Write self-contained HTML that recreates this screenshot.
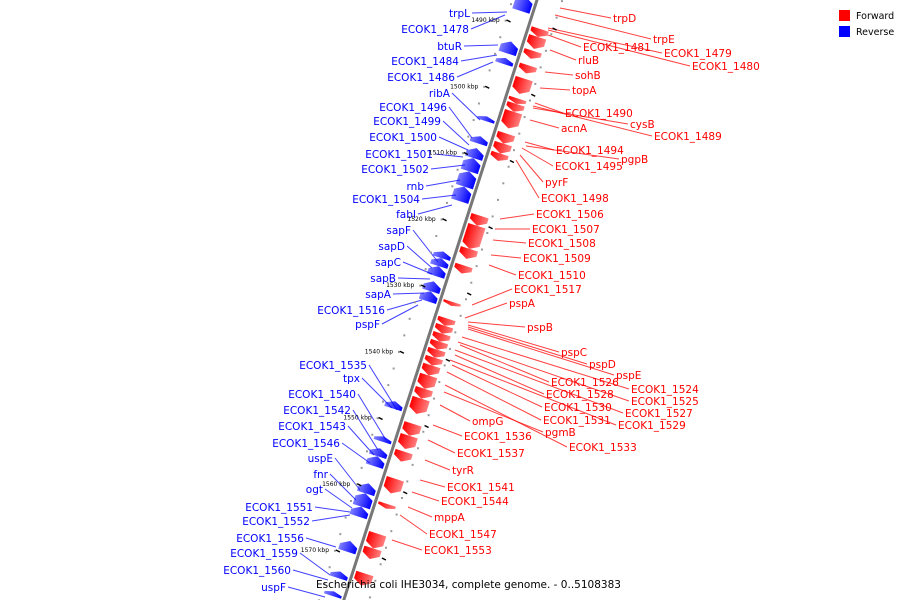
<!DOCTYPE html>
<html><head><meta charset="utf-8"><style>
html,body{margin:0;padding:0;background:#fff}
svg{display:block;font-family:"DejaVu Sans","Liberation Sans",sans-serif}
</style></head><body>
<svg id="map" width="900" height="600" viewBox="0 0 900 600">
<g id="genes"></g>
<g id="leaders"></g>
<g id="labels"></g>
<g id="ticks"></g>
<text x="316" y="588" font-size="10.5" fill="#000">Escherichia coli IHE3034, complete genome. - 0..5108383</text>
<g>
<rect x="839" y="10" width="11" height="11" fill="#f00"/>
<text x="856" y="19" font-size="9.5">Forward</text>
<rect x="839" y="26" width="11" height="11" fill="#00f"/>
<text x="856" y="35" font-size="9.5">Reverse</text>
</g>
</svg>
<script>
// forward (red) genes: start/end in kbp
const fwdStart=[1490.8,1492.0,1494.1,1496.3,1498.3,1501.3,1502.1,1503.3,1506.6,1508.1,1509.6,1519.0,1520.5,1524.0,1526.5,1532.0,1534.5,1535.6,1536.8,1538.0,1539.2,1540.4,1541.6,1543.1,1545.1,1546.6,1550.4,1552.2,1554.6,1558.7,1562.5,1567.0,1569.2,1573.0];
const fwdEnd=[1492.0,1493.8,1495.3,1497.5,1500.6,1502.1,1503.3,1505.8,1508.1,1509.6,1510.7,1520.5,1524.0,1525.5,1527.7,1532.6,1535.6,1536.8,1538.0,1539.2,1540.4,1541.6,1543.1,1545.1,1546.6,1548.9,1552.2,1554.2,1556.1,1560.9,1563.2,1569.2,1570.8,1574.8];
// reverse (blue) genes
const revStart=[1487.0,1493.8,1496.3,1505.1,1508.1,1509.9,1511.4,1513.4,1515.7,1525.5,1526.5,1527.7,1530.0,1531.5,1548.1,1553.4,1555.2,1556.4,1560.5,1562.0,1564.0,1569.2,1573.8,1576.8];
const revEnd=[1489.2,1495.6,1497.2,1505.8,1509.2,1511.4,1513.4,1515.7,1517.9,1526.5,1527.7,1529.2,1531.5,1533.0,1549.2,1554.2,1556.4,1557.9,1562.0,1564.0,1565.5,1570.8,1574.8,1577.5];
const tickKbp=[1490,1500,1510,1520,1530,1540,1550,1560,1570];
// labels: name, text x, text y, leader target x, target y
const fwdNames=["trpD","trpE","ECOK1_1481","ECOK1_1479","ECOK1_1480","rluB","sohB","topA","ECOK1_1490","cysB","ECOK1_1489","acnA","ECOK1_1494","pgpB","ECOK1_1495","pyrF","ECOK1_1498","ECOK1_1506","ECOK1_1507","ECOK1_1508","ECOK1_1509","ECOK1_1510","ECOK1_1517","pspA","pspB","pspC","pspD","pspE","ECOK1_1524","ECOK1_1526","ECOK1_1525","ECOK1_1528","ECOK1_1527","ECOK1_1530","ECOK1_1529","ECOK1_1531","ECOK1_1533","pgmB","ompG","ECOK1_1536","ECOK1_1537","tyrR","ECOK1_1541","ECOK1_1544","mppA","ECOK1_1547","ECOK1_1553"];
const fwdLX=[613,653,583,664,692,578,575,572,565,630,654,561,556,621,555,545,541,536,532,528,523,518,514,509,527,561,589,616,631,551,631,546,625,544,618,543,569,545,472,464,457,452,447,441,434,429,424];
const fwdLY=[21,42,50,56,69,63,78,93,116,127,139,131,153,162,169,185,201,217,232,246,261,278,292,306,330,355,367,378,392,385,404,397,416,410,428,423,450,435,424,439,456,473,490,504,520,537,553];
const fwdTX=[560,555,548,548,548,550,545,540,535,533,533,530,525,526,522,520,516,500,495,493,491,489,472,465,468,468,468,468,462,460,458,455,455,452,450,447,445,444,440,433,428,425,420,412,408,400,392];
const fwdTY=[8,15,35,28,30,50,72,88,103,108,106,120,142,146,148,155,160,219,229,240,255,265,305,318,322,325,327,329,337,345,342,355,350,365,360,372,385,392,405,425,440,460,480,492,507,515,540];
const revNames=["trpL","ECOK1_1478","btuR","ECOK1_1484","ECOK1_1486","ribA","ECOK1_1496","ECOK1_1499","ECOK1_1500","ECOK1_1501","ECOK1_1502","rnb","ECOK1_1504","fabI","sapF","sapD","sapC","sapB","sapA","ECOK1_1516","pspF","ECOK1_1535","tpx","ECOK1_1540","ECOK1_1542","ECOK1_1543","ECOK1_1546","uspE","fnr","ogt","ECOK1_1551","ECOK1_1552","ECOK1_1556","ECOK1_1559","ECOK1_1560","uspF"];
const revLX=[470,469,462,459,455,450,447,441,437,433,429,424,420,416,411,405,401,396,391,385,380,367,360,356,351,346,340,333,328,323,313,310,304,298,291,286];
const revLY=[16,32,49,64,80,96,110,124,140,157,172,189,202,217,233,249,265,281,297,313,327,368,381,397,413,429,446,461,477,492,510,524,541,556,573,590];
const revTX=[507,505,498,497,493,480,472,469,468,463,465,460,456,452,438,432,432,430,424,422,418,397,392,386,378,374,370,360,356,352,350,350,336,330,328,325];
const revTY=[12,15,45,55,62,120,138,145,150,157,165,180,195,205,262,268,274,279,293,300,305,410,408,440,450,455,463,490,500,508,512,515,547,575,580,597];

const NS='http://www.w3.org/2000/svg';
const X0=537, SL=0.322;
function yOf(k){return 20+(k-1490)*6.625;}
function bx(y){return X0-SL*y;}
const svg=document.getElementById('map');
const gG=document.getElementById('genes'),gL=document.getElementById('leaders'),gT=document.getElementById('labels'),gK=document.getElementById('ticks');
function mk(tag,attrs,parent){const e=document.createElementNS(NS,tag);for(const k in attrs)e.setAttribute(k,attrs[k]);parent.appendChild(e);return e;}

const defs=mk('defs',{},svg);
const gr=mk('linearGradient',{id:'gr',x1:0,x2:1,y1:0,y2:0},defs);
mk('stop',{offset:'0','stop-color':'#ff0000'},gr);mk('stop',{offset:'1','stop-color':'#ff8080'},gr);
const gb=mk('linearGradient',{id:'gb',x1:0,x2:1,y1:0,y2:0},defs);
mk('stop',{offset:'0','stop-color':'#8080ff'},gb);mk('stop',{offset:'1','stop-color':'#0000ff'},gb);

const bb=mk('line',{x1:bx(-5),y1:-5,x2:bx(605),y2:605,stroke:'#777','stroke-width':3},gG);



const ang=Math.atan(SL)*180/Math.PI;
const rot=mk('g',{transform:`translate(${X0},0) rotate(${ang})`},gG);
const sc=1/Math.cos(Math.atan(SL));
function gene(s,e,fwd,i){
  const a=yOf(s)*sc,b=yOf(e)*sc, h=Math.min(5,(b-a)*0.5);
  let pts;
  if(fwd){pts=`3,${a} 21,${a} 21,${b-h} 12,${b} 3,${b-h}`;}
  else{pts=`-3,${b} -21,${b} -21,${a+h} -12,${a} -3,${a+h}`;}
  const p=mk('polygon',{points:pts,fill:fwd?'url(#gr)':'url(#gb)'},rot);
  
  
}
fwdStart.forEach((s,i)=>gene(s,fwdEnd[i],true,i));
revStart.forEach((s,i)=>gene(s,revEnd[i],false,i));

for(let k=1487;k<=1578;k+=2.5){
  const y=yOf(k);
  mk('rect',{x:bx(y)+24,y:y,width:2,height:2,fill:'#999'},gK);
  mk('rect',{x:bx(y)-27,y:y+3,width:2,height:2,fill:'#999'},gK);
}
tickKbp.forEach((k,i)=>{
  const y=yOf(k);
  const t=mk('line',{x1:bx(y)-24,y1:y,x2:bx(y)-20,y2:y+2,stroke:'#000','stroke-width':1.5},gK);
  
  
  const tx=mk('text',{x:bx(y)-45,y:y+2,'font-size':6,'text-anchor':'middle',fill:'#000'},gK);
  tx.textContent=k+' kbp';
  
  
  mk('line',{x1:bx(y)+22,y1:y+8,x2:bx(y)+26,y2:y+10,stroke:'#000','stroke-width':1.5},gK);
});

fwdNames.forEach((n,i)=>{
  const l=mk('line',{x1:fwdLX[i]-2,y1:fwdLY[i]-3,x2:fwdTX[i],y2:fwdTY[i],stroke:'#f00','stroke-width':1,'stroke-opacity':0.75},gL);
  
  
  const t=mk('text',{x:fwdLX[i],y:fwdLY[i]+1,'font-size':10.5,fill:'#f00'},gT);
  t.textContent=n;
  
  
});
revNames.forEach((n,i)=>{
  const l=mk('line',{x1:revLX[i]+2,y1:revLY[i]-3,x2:revTX[i],y2:revTY[i],stroke:'#00f','stroke-width':1,'stroke-opacity':0.75},gL);
  
  
  const t=mk('text',{x:revLX[i],y:revLY[i]+1,'font-size':10.5,fill:'#00f','text-anchor':'end'},gT);
  t.textContent=n;
  
  
});
</script>
</body></html>
